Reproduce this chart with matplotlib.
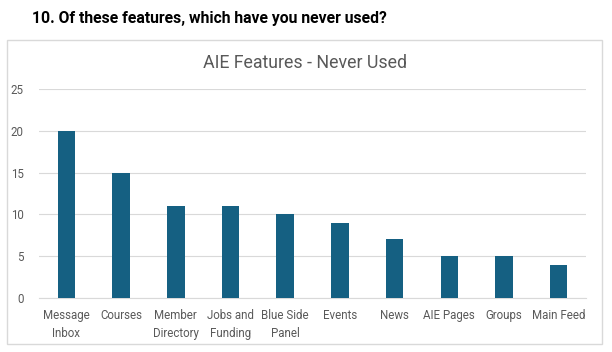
import matplotlib.pyplot as plt
from matplotlib.patches import Rectangle

features = ["Message\nInbox", "Courses", "Member\nDirectory", "Jobs and\nFunding",
            "Blue Side\nPanel", "Events", "News", "AIE Pages", "Groups", "Main Feed"]
never_used = [20, 15, 11, 11, 10, 9, 7, 5, 5, 4]
yticks = [0, 5, 10, 15, 20, 25]

W, H = 612, 352
fig = plt.figure(figsize=(W / 100, H / 100), dpi=100)
plt.rcParams['font.family'] = ['Roboto', 'DejaVu Sans']

# outer chart border
fig.patches.append(Rectangle((7 / W, 1 - 344 / H), 595 / W, 304 / H,
                             transform=fig.transFigure, fill=False,
                             edgecolor="#D9D9D9", linewidth=1))

fig.text(32 / W, 1 - 18 / H, "10. Of these features, which have you never used?",
         fontsize=11.3, fontweight="bold", va="center", ha="left", color="black")

ax = fig.add_axes([39.1 / W, 1 - 298 / H, (586 - 39.1) / W, (298 - 89) / H])
x = range(len(features))
ax.bar(x, never_used, width=0.32, color="#156082", zorder=3)
ax.set_xlim(-0.5, len(features) - 0.5)
ax.set_ylim(0, 25)
ax.set_yticks(yticks)
ax.grid(axis="y", color="#D9D9D9", linewidth=0.8, zorder=0)
for s in ["top", "right", "left"]:
    ax.spines[s].set_visible(False)
ax.spines["bottom"].set_color("#D9D9D9")
ax.set_xticks(list(x))
ax.set_xticklabels(features, linespacing=1.45)
ax.tick_params(axis="both", length=0, labelsize=8.3, labelcolor="#595959")
ax.tick_params(axis="y", pad=11)
ax.tick_params(axis="x", pad=8)

fig.text(305 / W, 1 - 63 / H, "AIE Features - Never Used", fontsize=12.8,
         color="#595959", ha="center", va="center")

fig.savefig("out.png", dpi=100)
